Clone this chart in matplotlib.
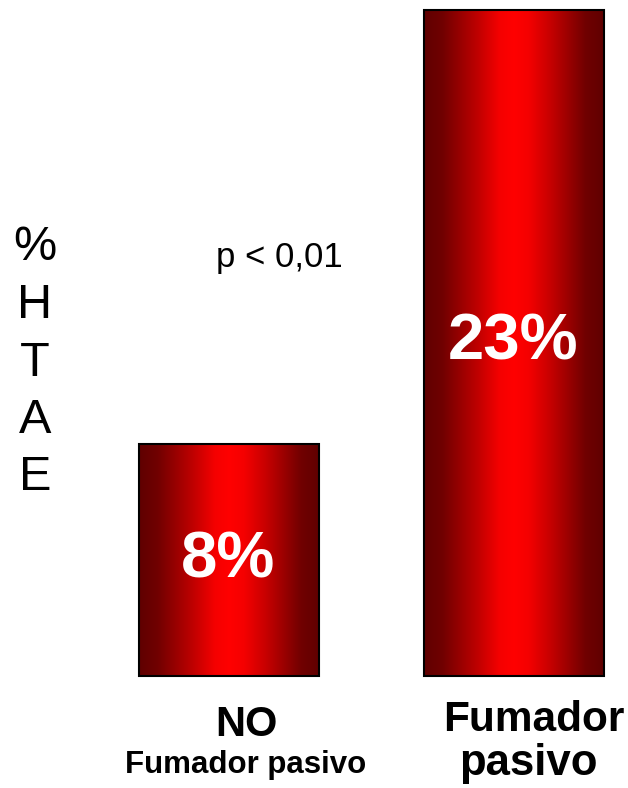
import numpy as np
import matplotlib
matplotlib.use("Agg")
import matplotlib.pyplot as plt
from matplotlib.colors import LinearSegmentedColormap

plt.rcParams['font.family'] = ['Liberation Sans', 'DejaVu Sans']

# prevalence of HTAE (%) by passive smoking status
values = [8, 23]
value_labels = ["8%", "23%"]
p_text = "p < 0,01"
ylabel_letters = ["%", "H", "T", "A", "E"]

red_cmap = LinearSegmentedColormap.from_list(
    "redbar", [(0.0, "#600000"), (0.1, "#700000"), (0.3, "#c00000"),
               (0.42, "#f50000"), (0.5, "#ff0000"), (0.58, "#f50000"),
               (0.7, "#c80000"), (0.9, "#700000"), (1.0, "#600000")])

W, H = 628, 788
fig = plt.figure(figsize=(W / 100, H / 100), dpi=100)
# axes spans the full width; y=0 at pixel row 676, top bar reaches row 10
ax = fig.add_axes([0, (H - 676) / H, 1, 666 / H])
px_per_unit = 285.0
x0 = 228.5
ax.axis('off')

width = 180 / px_per_unit
grad = np.linspace(0, 1, 256).reshape(1, -1)
for i, v in enumerate(values):
    bars = ax.bar(i, v, width=width, facecolor='none', edgecolor='black',
                  linewidth=1.5, zorder=3, clip_on=False)
    rect = bars[0]
    im = ax.imshow(grad, cmap=red_cmap, aspect='auto', zorder=2,
                   extent=[i - width / 2, i + width / 2, 0, v],
                   interpolation='bilinear', clip_on=False)
    im.set_clip_path(rect)
    ax.text(i, v / 2, value_labels[i], color='white', fontsize=47,
            fontweight='bold', ha='center', va='center', zorder=4)

# fix limits after imshow
ax.set_xlim(-x0 / px_per_unit, (W - x0) / px_per_unit)
ax.set_ylim(0, max(values))

# category labels under the bars
fig.text(246 / W, 1 - 725 / H, "NO", fontsize=30, fontweight='bold',
         ha='center', va='center')
fig.text(246 / W, 1 - 765 / H, "Fumador pasivo", fontsize=22.5, fontweight='bold',
         ha='center', va='center')
fig.text(534 / W, 1 - 720 / H, "Fumador", fontsize=30.5,
         fontweight='bold', ha='center', va='center')
fig.text(528 / W, 1 - 763 / H, "pasivo", fontsize=31.5,
         fontweight='bold', ha='center', va='center')

# vertical y-axis title, one letter per line
for k, ch in enumerate(ylabel_letters):
    fig.text(35 / W, 1 - (248 + k * 57.5) / H, ch, fontsize=35,
             ha='center', va='center')

fig.text(279 / W, 1 - 258 / H, p_text, fontsize=25, ha='center', va='center')

fig.savefig("out.png", dpi=100)
